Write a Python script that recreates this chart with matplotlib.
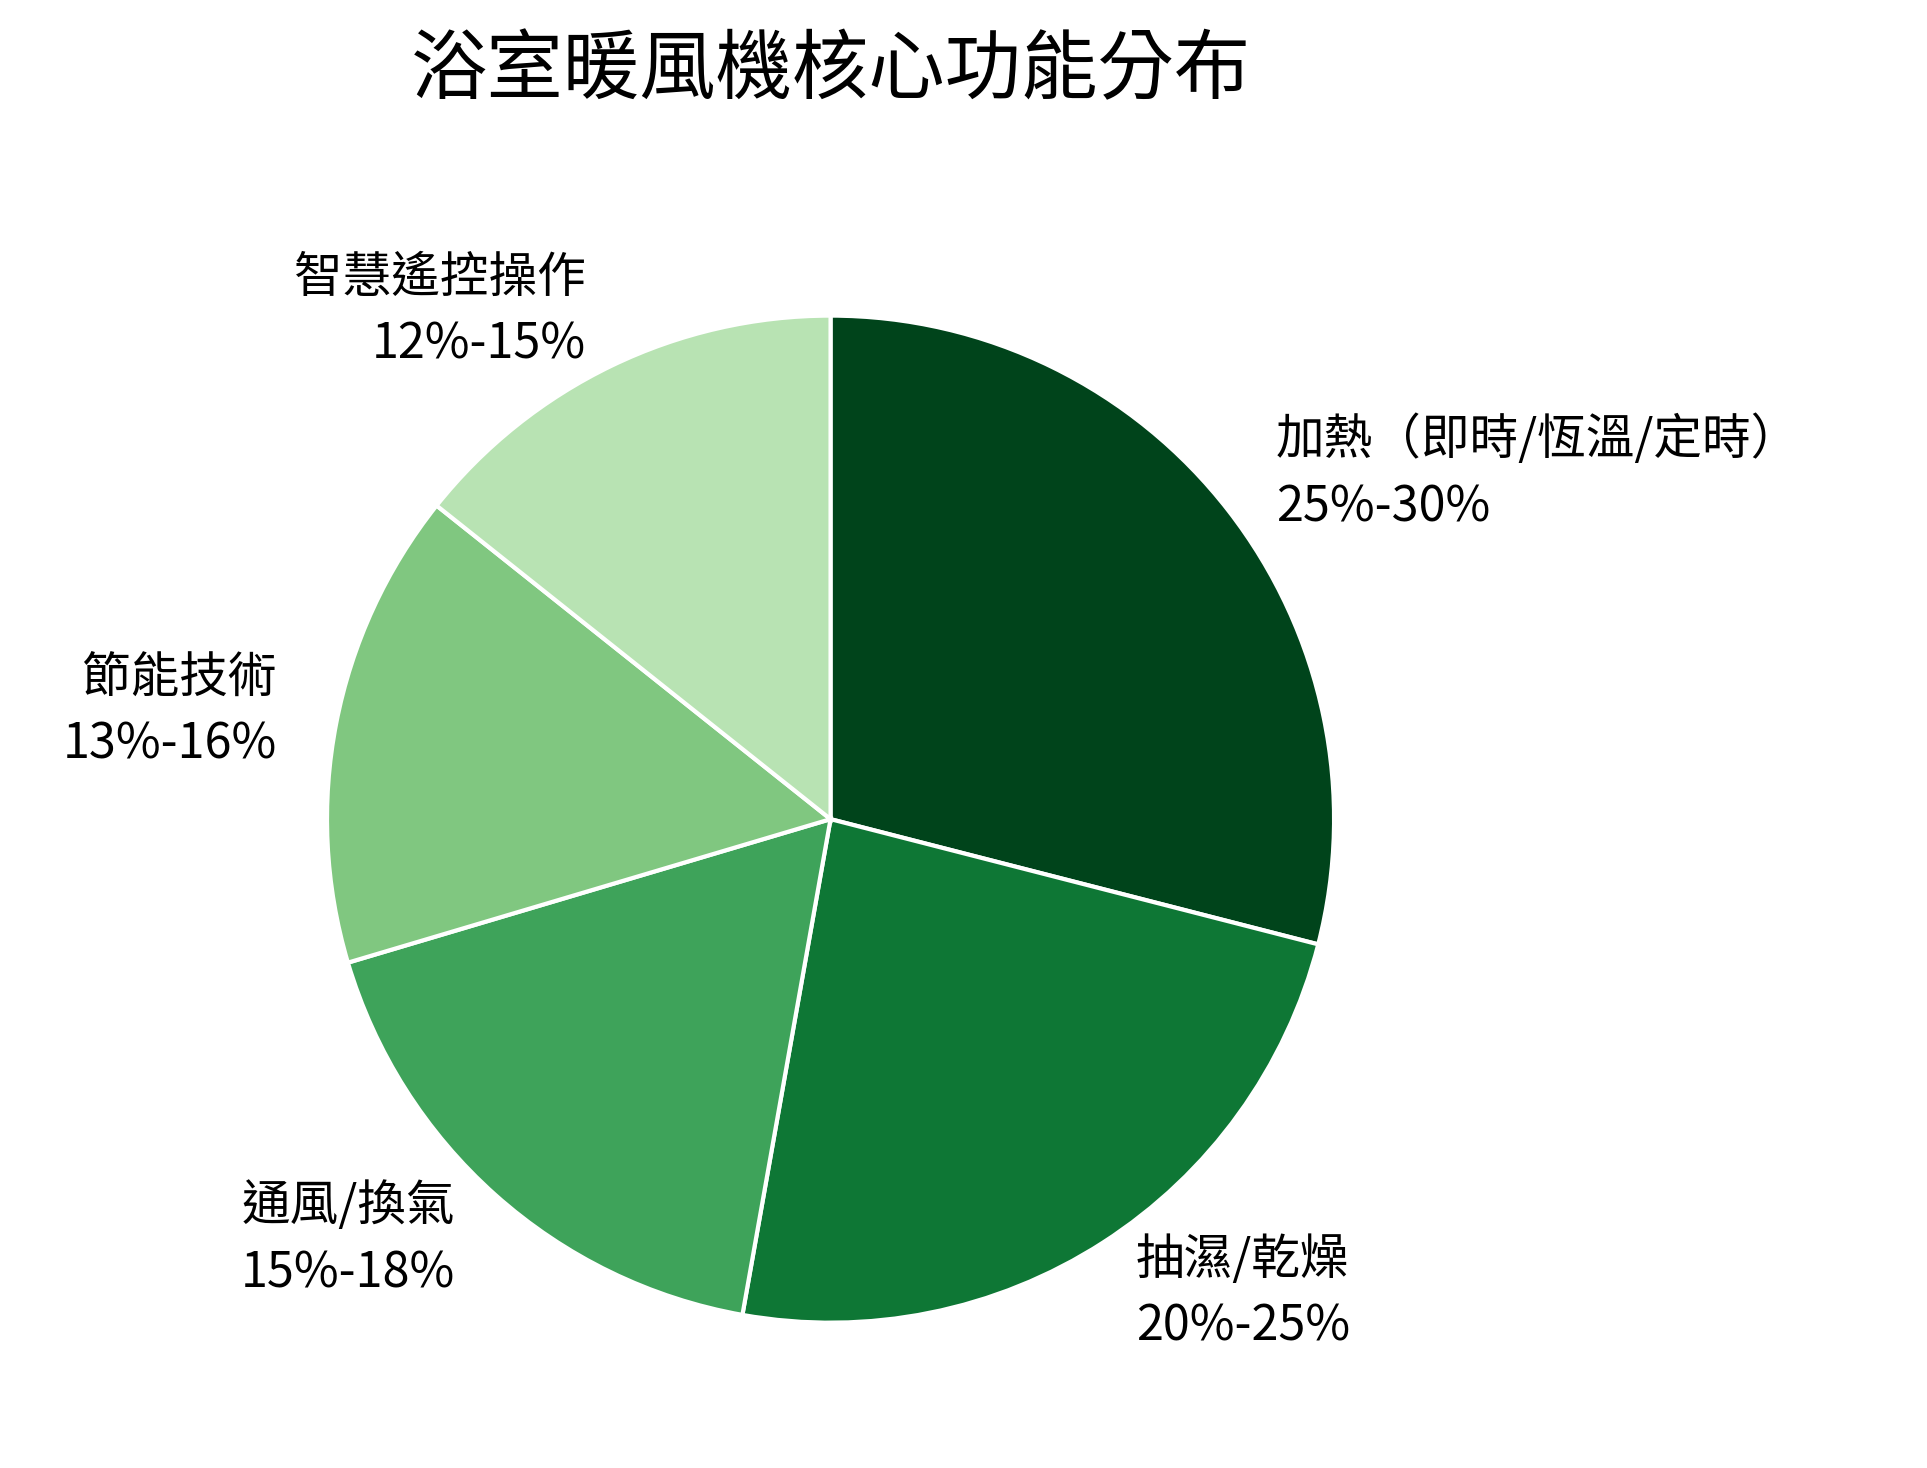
import matplotlib
matplotlib.use("Agg")
import matplotlib.pyplot as plt

plt.rcParams['font.family'] = ['Noto Sans CJK TC', 'DejaVu Sans']

categories = ["加熱（即時/恆溫/定時）", "抽濕/乾燥", "通風/換氣", "節能技術", "智慧遙控操作"]
ranges = ["25%-30%", "20%-25%", "15%-18%", "13%-16%", "12%-15%"]
values = [29.0, 23.8, 17.6, 15.3, 14.3]
colors = ["#00441b", "#0e7735", "#3ea35a", "#80c780", "#b8e3b3"]

fig = plt.figure(figsize=(19.27, 14.68), dpi=100)
rh = 0.343 * 1.25
rw = rh * 14.68 / 19.27
cx, cy = 0.431, 0.442
ax = fig.add_axes([cx - rw, cy - rh, 2 * rw, 2 * rh])
labels = [f"{c}\n{p}" for c, p in zip(categories, ranges)]
wedges, texts = ax.pie(values, labels=labels, colors=colors, startangle=90, counterclock=False,
                       labeldistance=1.12,
                       wedgeprops=dict(edgecolor="white", linewidth=3),
                       textprops=dict(fontsize=35, linespacing=1.45))
ax.set_xlim(-1.25, 1.25)
ax.set_ylim(-1.25, 1.25)
ax.set_aspect('equal')
fig.text(cx, 0.951, "浴室暖風機核心功能分布", ha="center", va="center", fontsize=55)
fig.savefig("out.png", dpi=100, facecolor="white")
